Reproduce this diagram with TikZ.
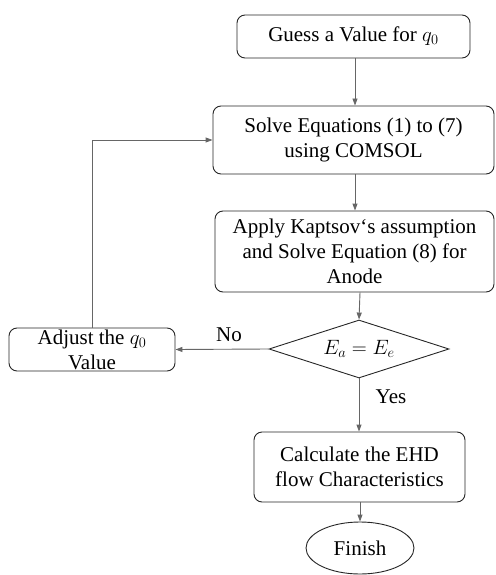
\documentclass[tikz,border=0pt]{standalone}
\usepackage{fontspec}
\setmainfont{Liberation Serif}
\usetikzlibrary{shapes.geometric,arrows.meta}
\tikzset{
  box/.style={draw=black!85, line width=0.9pt, rounded corners=8pt, align=center, inner sep=0pt},
  conn/.style={draw=black!60, line width=0.9pt, -{Triangle[length=7pt,width=5pt]}},
  lbl/.style={font=\fontsize{21}{25}\selectfont, inner sep=0pt}
}
\begin{document}
\begin{tikzpicture}[x=1pt,y=-1pt,font=\fontsize{21}{25}\selectfont]
\useasboundingbox (0,0) rectangle (495,575);
\node[box, minimum width=233pt, minimum height=43pt] (guess) at (353.5,36.5) {Guess a Value for $q_0$};
\node[box, minimum width=281pt, minimum height=68pt] (solve) at (353.5,140) {Solve Equations (1) to (7)\\using COMSOL};
\node[box, minimum width=279pt, minimum height=81pt] (apply) at (354.5,251.5) {Apply Kaptsov\textquoteleft s assumption\\and Solve Equation (8) for\\Anode};
\node[draw=black!85, line width=0.9pt, diamond, aspect=3.1, minimum width=180pt, minimum height=58pt, inner sep=0pt] (dec) at (359,349) {};
\node[inner sep=0pt] at (359,349) {$E_a = E_e$};
\node[box, minimum width=166pt, minimum height=43pt] (adjust) at (92,349.5) {Adjust the $q_0$\\Value};
\node[box, minimum width=211pt, minimum height=70pt] (calc) at (359.5,467) {Calculate the EHD\\flow Characteristics};
\node[draw=black!85, line width=0.9pt, ellipse, minimum width=108pt, minimum height=52pt, inner sep=0pt] (fin) at (360,548) {Finish};
\node[lbl] (no) at (229,335) {No};
\node[lbl] (yes) at (391,397) {Yes};
\coordinate (c1) at (92,140);
\coordinate (a1) at (355,58);
\coordinate (a2) at (355,174);
\coordinate (a3) at (360,292);
\draw[conn] (guess.south -| a1) -- (solve.north -| a1);
\draw[conn] (solve.south -| a2) -- (apply.north -| a2);
\draw[conn] (apply.south -| a3) -- (dec.north);
\draw[conn] (dec.west) -- (adjust.east);
\draw[conn] (adjust.north) -- (c1) -- (solve.west);
\draw[conn] (dec.south) -- (calc.north -| dec.south);
\draw[conn] (calc.south -| fin.north) -- (fin.north);
\end{tikzpicture}
\end{document}
